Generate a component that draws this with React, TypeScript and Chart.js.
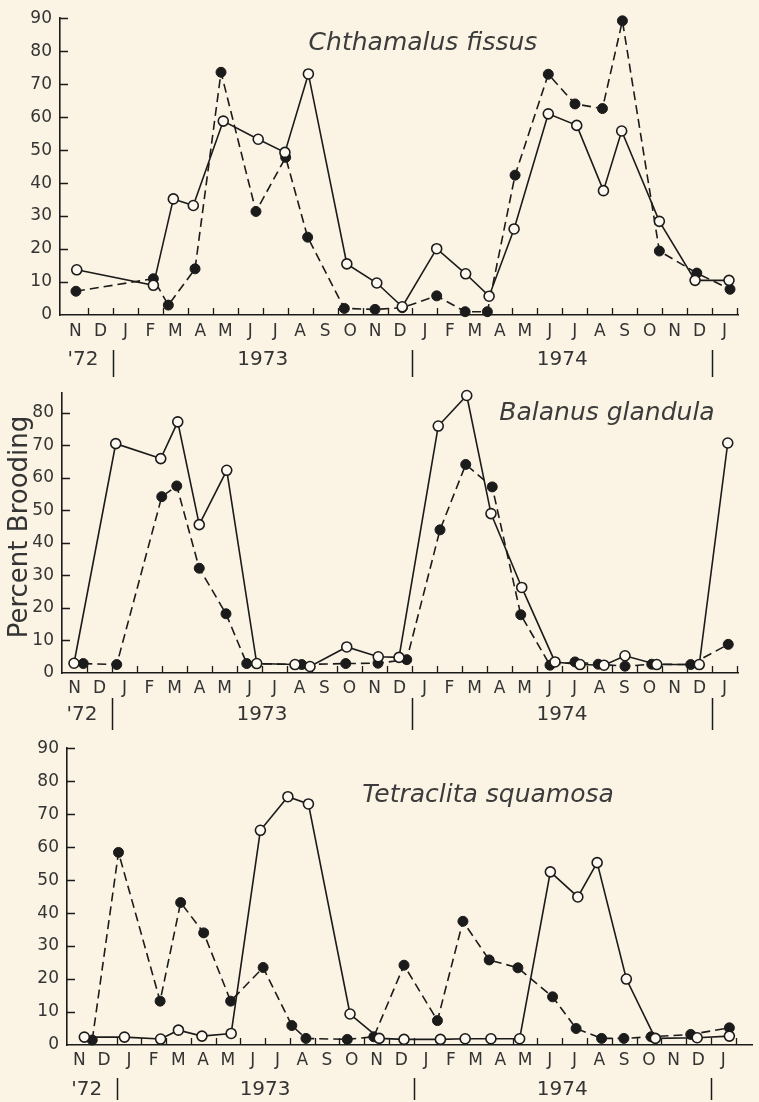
import React, { useEffect, useRef } from 'react';
import { Chart, registerables } from 'chart.js';

Chart.register(...registerables);

// ---------- tick labels ----------
const monthLabels = ['N', 'D', 'J', 'F', 'M', 'A', 'M', 'J', 'J', 'A', 'S', 'O', 'N', 'D', 'J', 'F', 'M', 'A', 'M', 'J', 'J', 'A', 'S', 'O', 'N', 'D', 'J'];
const yearLabels = ["'72", '1973', '1974'];
const yearLabelMonths = [0.8, 8, 20];
const yearBoundaryMonths = [2, 14, 26];
const yTicksTop = [0, 10, 20, 30, 40, 50, 60, 70, 80, 90];
const yTicksMiddle = [0, 10, 20, 30, 40, 50, 60, 70, 80];
const yTicksBottom = [0, 10, 20, 30, 40, 50, 60, 70, 80, 90];
const yAxisTitle = 'Percent Brooding';

// x = months since 1 Nov 1972
// ---------- Chthamalus fissus ----------
const chthOpenMonths = [0.55, 3.62, 4.42, 5.22, 6.42, 7.82, 8.89, 9.83, 11.37, 12.57, 13.59, 14.97, 16.13, 17.07, 18.07, 19.44, 20.58, 21.65, 22.38, 23.89, 25.32, 26.68];
const chthOpenPct = [13.7, 9.0, 35.2, 33.2, 58.8, 53.3, 49.3, 73.1, 15.5, 9.7, 2.5, 20.1, 12.5, 5.7, 26.1, 61.0, 57.5, 37.7, 55.8, 28.4, 10.5, 10.5];
const chthFilledMonths = [0.52, 3.62, 4.22, 5.29, 6.33, 7.73, 8.92, 9.8, 11.27, 12.5, 13.59, 14.97, 16.11, 17.0, 18.11, 19.44, 20.51, 21.61, 22.41, 23.89, 25.39, 26.72];
const chthFilledPct = [7.2, 11.0, 3.0, 14.0, 73.6, 31.4, 47.8, 23.6, 2.0, 1.7, 2.2, 5.8, 1.0, 1.0, 42.4, 73.0, 64.0, 62.6, 89.2, 19.4, 12.7, 7.8];

// ---------- Balanus glandula ----------
const balOpenMonths = [0.48, 2.15, 3.95, 4.63, 5.49, 6.59, 7.79, 9.32, 9.92, 11.39, 12.65, 13.48, 15.05, 16.19, 17.16, 18.39, 19.72, 20.72, 21.68, 22.52, 23.79, 25.49, 26.63];
const balOpenPct = [3.0, 70.5, 65.9, 77.2, 45.6, 62.3, 2.9, 2.6, 2.0, 8.0, 5.0, 4.8, 75.9, 85.3, 49.0, 26.3, 3.4, 2.6, 2.4, 5.3, 2.6, 2.6, 70.7];
const balFilledMonths = [0.85, 2.19, 3.99, 4.59, 5.49, 6.56, 7.39, 9.59, 11.35, 12.64, 13.79, 15.12, 16.15, 17.21, 18.35, 19.52, 20.52, 21.45, 22.52, 23.59, 25.15, 26.65];
const balFilledPct = [2.9, 2.6, 54.2, 57.5, 32.2, 18.2, 2.9, 2.6, 2.9, 3.0, 4.1, 44.0, 64.1, 57.2, 17.9, 2.4, 3.4, 2.7, 2.1, 2.7, 2.6, 8.8];

// ---------- Tetraclita squamosa ----------
const tetOpenMonths = [0.7, 2.32, 3.78, 4.5, 5.45, 6.63, 7.81, 8.92, 9.75, 11.43, 12.61, 13.61, 15.08, 16.08, 17.12, 18.28, 19.52, 20.63, 21.41, 22.59, 23.76, 25.45, 26.75];
const tetOpenPct = [2.4, 2.4, 1.8, 4.5, 2.7, 3.5, 65.1, 75.3, 73.1, 9.4, 2.0, 1.7, 1.7, 1.9, 1.9, 1.9, 52.5, 44.9, 55.3, 20.0, 2.0, 2.2, 2.7];
const tetFilledMonths = [1.02, 2.08, 3.76, 4.59, 5.52, 6.61, 7.92, 9.08, 9.65, 11.32, 12.39, 13.61, 14.96, 15.99, 17.05, 18.21, 19.61, 20.56, 21.59, 22.49, 23.59, 25.19, 26.75];
const tetFilledPct = [1.5, 58.4, 13.3, 43.2, 34.0, 13.3, 23.5, 5.9, 2.0, 1.7, 2.5, 24.2, 7.4, 37.5, 25.8, 23.4, 14.6, 5.0, 2.0, 2.0, 2.5, 3.2, 5.2];

// ---------- styling ----------
const W = 759;
const BG = '#fbf4e4';
const INK = '#1b1b1b';
const TEXT = '#343434';
const OPEN_FILL = '#fdf9f0';
const FONT = '"DejaVu Sans", "Noto Sans", sans-serif';

const toPoints = (xs: number[], ys: number[]) => xs.map((x, i) => ({ x, y: ys[i] }));

type Panel = {
  canvasTop: number; height: number;
  left: number; right: number; top: number; bottom: number;
  xMin: number; xMax: number; yMax: number; yTicks: number[];
  title: string; titleX: number; titleBaseline: number;
  monthPad: number; yearY: number; sepTop: number; sepBottom: number;
  showYTitle: boolean; yTitleX: number; yTitleY: number;
  open: { x: number; y: number }[]; filled: { x: number; y: number }[];
};

const panels: Panel[] = [
  {
    canvasTop: 0, height: 385, left: 60, right: 738, top: 14, bottom: 315,
    xMin: -0.12, xMax: 27.04, yMax: 90, yTicks: yTicksTop,
    title: 'Chthamalus fissus', titleX: 423, titleBaseline: 50,
    monthPad: 6, yearY: 360, sepTop: 350, sepBottom: 377,
    showYTitle: false, yTitleX: 0, yTitleY: 0,
    open: toPoints(chthOpenMonths, chthOpenPct), filled: toPoints(chthFilledMonths, chthFilledPct),
  },
  {
    canvasTop: 375, height: 360, left: 62, right: 738, top: 383, bottom: 673,
    xMin: 0, xMax: 27.04, yMax: 86, yTicks: yTicksMiddle,
    title: 'Balanus glandula', titleX: 607, titleBaseline: 420,
    monthPad: 5, yearY: 715, sepTop: 698, sepBottom: 730,
    showYTitle: true, yTitleX: 27, yTitleY: 527,
    open: toPoints(balOpenMonths, balOpenPct), filled: toPoints(balFilledMonths, balFilledPct),
  },
  {
    canvasTop: 730, height: 372, left: 67, right: 759, top: 741, bottom: 1045,
    xMin: 0, xMax: 27.68, yMax: 90, yTicks: yTicksBottom,
    title: 'Tetraclita squamosa', titleX: 488, titleBaseline: 802,
    monthPad: 5, yearY: 1090, sepTop: 1078, sepBottom: 1100,
    showYTitle: false, yTitleX: 0, yTitleY: 0,
    open: toPoints(tetOpenMonths, tetOpenPct), filled: toPoints(tetFilledMonths, tetFilledPct),
  },
];

const decorPlugin = {
  id: 'decor',
  beforeDatasetsDraw(chart: any, _args: any, opts: any) {
    const p: Panel = opts.panel;
    const { ctx, chartArea: ca } = chart;
    const xs = chart.scales.x;
    const ys = chart.scales.y;
    ctx.save();
    ctx.strokeStyle = INK;
    ctx.lineWidth = 1.3;
    ctx.beginPath();
    p.yTicks.forEach((v) => {
      if (v === 0) return;
      const py = Math.round(ys.getPixelForValue(v)) + 0.5;
      ctx.moveTo(ca.left, py);
      ctx.lineTo(ca.left + 8, py);
    });
    for (let m = 1; m <= Math.floor(p.xMax); m++) {
      const px = Math.round(xs.getPixelForValue(m)) + 0.5;
      ctx.moveTo(px, ca.bottom);
      ctx.lineTo(px, ca.bottom - 7);
    }
    ctx.stroke();
    ctx.restore();
  },
  afterDraw(chart: any, _args: any, opts: any) {
    const p: Panel = opts.panel;
    const { ctx } = chart;
    const xs = chart.scales.x;
    const off = p.canvasTop;
    ctx.save();
    // year separators
    ctx.strokeStyle = INK;
    ctx.lineWidth = 1.5;
    ctx.beginPath();
    yearBoundaryMonths.forEach((m) => {
      const px = Math.round(xs.getPixelForValue(m)) + 0.5;
      ctx.moveTo(px, p.sepTop - off);
      ctx.lineTo(px, p.sepBottom - off);
    });
    ctx.stroke();
    // year labels
    ctx.fillStyle = TEXT;
    ctx.font = `20px ${FONT}`;
    ctx.textAlign = 'center';
    ctx.textBaseline = 'middle';
    yearLabels.forEach((t, i) => {
      ctx.fillText(t, xs.getPixelForValue(yearLabelMonths[i]), p.yearY - off);
    });
    // species title
    ctx.font = `italic 25px ${FONT}`;
    ctx.fillStyle = '#3c3c3c';
    ctx.textBaseline = 'alphabetic';
    ctx.fillText(p.title, p.titleX, p.titleBaseline - off);
    // y axis title
    if (p.showYTitle) {
      ctx.translate(p.yTitleX, p.yTitleY - off);
      ctx.rotate(-Math.PI / 2);
      ctx.font = `26px ${FONT}`;
      ctx.fillStyle = TEXT;
      ctx.textAlign = 'center';
      ctx.textBaseline = 'alphabetic';
      ctx.fillText(yAxisTitle, 0, 0);
    }
    ctx.restore();
  },
};

function buildConfig(p: Panel): any {
  const top = p.top - p.canvasTop;
  const bottom = p.bottom - p.canvasTop;
  return {
    type: 'line',
    data: {
      datasets: [
        {
          data: p.open,
          borderColor: INK,
          borderWidth: 1.6,
          pointRadius: 5,
          pointHoverRadius: 5,
          pointBackgroundColor: OPEN_FILL,
          pointBorderColor: INK,
          pointBorderWidth: 1.6,
          tension: 0,
          clip: false,
        },
        {
          data: p.filled,
          borderColor: INK,
          borderWidth: 1.6,
          borderDash: [9, 5],
          pointRadius: 5,
          pointHoverRadius: 5,
          pointBackgroundColor: INK,
          pointBorderColor: INK,
          pointBorderWidth: 1,
          tension: 0,
          clip: false,
        },
      ],
    },
    options: {
      responsive: false,
      animation: false,
      events: [],
      layout: { padding: { top, right: W - p.right, left: 0, bottom: 0 } },
      plugins: {
        legend: { display: false },
        tooltip: { enabled: false },
        decor: { panel: p },
      },
      scales: {
        x: {
          type: 'linear',
          position: 'bottom',
          min: p.xMin,
          max: p.xMax,
          afterBuildTicks: (s: any) => {
            s.ticks = monthLabels.map((_, i) => ({ value: i + 0.5 }));
          },
          afterFit: (s: any) => {
            s.height = p.height - bottom;
          },
          grid: { display: false, drawTicks: false },
          border: { display: true, color: INK, width: 1.6 },
          ticks: {
            autoSkip: false,
            maxRotation: 0,
            minRotation: 0,
            padding: p.monthPad,
            color: TEXT,
            font: { family: FONT, size: 17 },
            callback: (_v: any, i: number) => monthLabels[i],
          },
        },
        y: {
          type: 'linear',
          min: 0,
          max: p.yMax,
          afterBuildTicks: (s: any) => {
            s.ticks = p.yTicks.map((v) => ({ value: v }));
          },
          afterFit: (s: any) => {
            s.width = p.left;
          },
          grid: { display: false, drawTicks: false },
          border: { display: true, color: INK, width: 1.6 },
          ticks: {
            padding: 8,
            color: TEXT,
            font: { family: FONT, size: 17 },
            callback: (v: any) => String(v),
          },
        },
      },
    },
    plugins: [decorPlugin],
  };
}

function PanelChart({ p }: { p: Panel }) {
  const ref = useRef<HTMLCanvasElement | null>(null);
  useEffect(() => {
    if (!ref.current) return;
    const chart = new Chart(ref.current, buildConfig(p));
    return () => chart.destroy();
  }, [p]);
  return (
    <canvas
      ref={ref}
      width={W}
      height={p.height}
      style={{ position: 'absolute', left: 0, top: p.canvasTop, width: W, height: p.height }}
    />
  );
}

export default function App() {
  return (
    <div style={{ position: 'absolute', left: 0, top: 0, width: W, height: 1102, background: BG, overflow: 'hidden' }}>
      {panels.map((p, i) => (
        <PanelChart key={i} p={p} />
      ))}
    </div>
  );
}
